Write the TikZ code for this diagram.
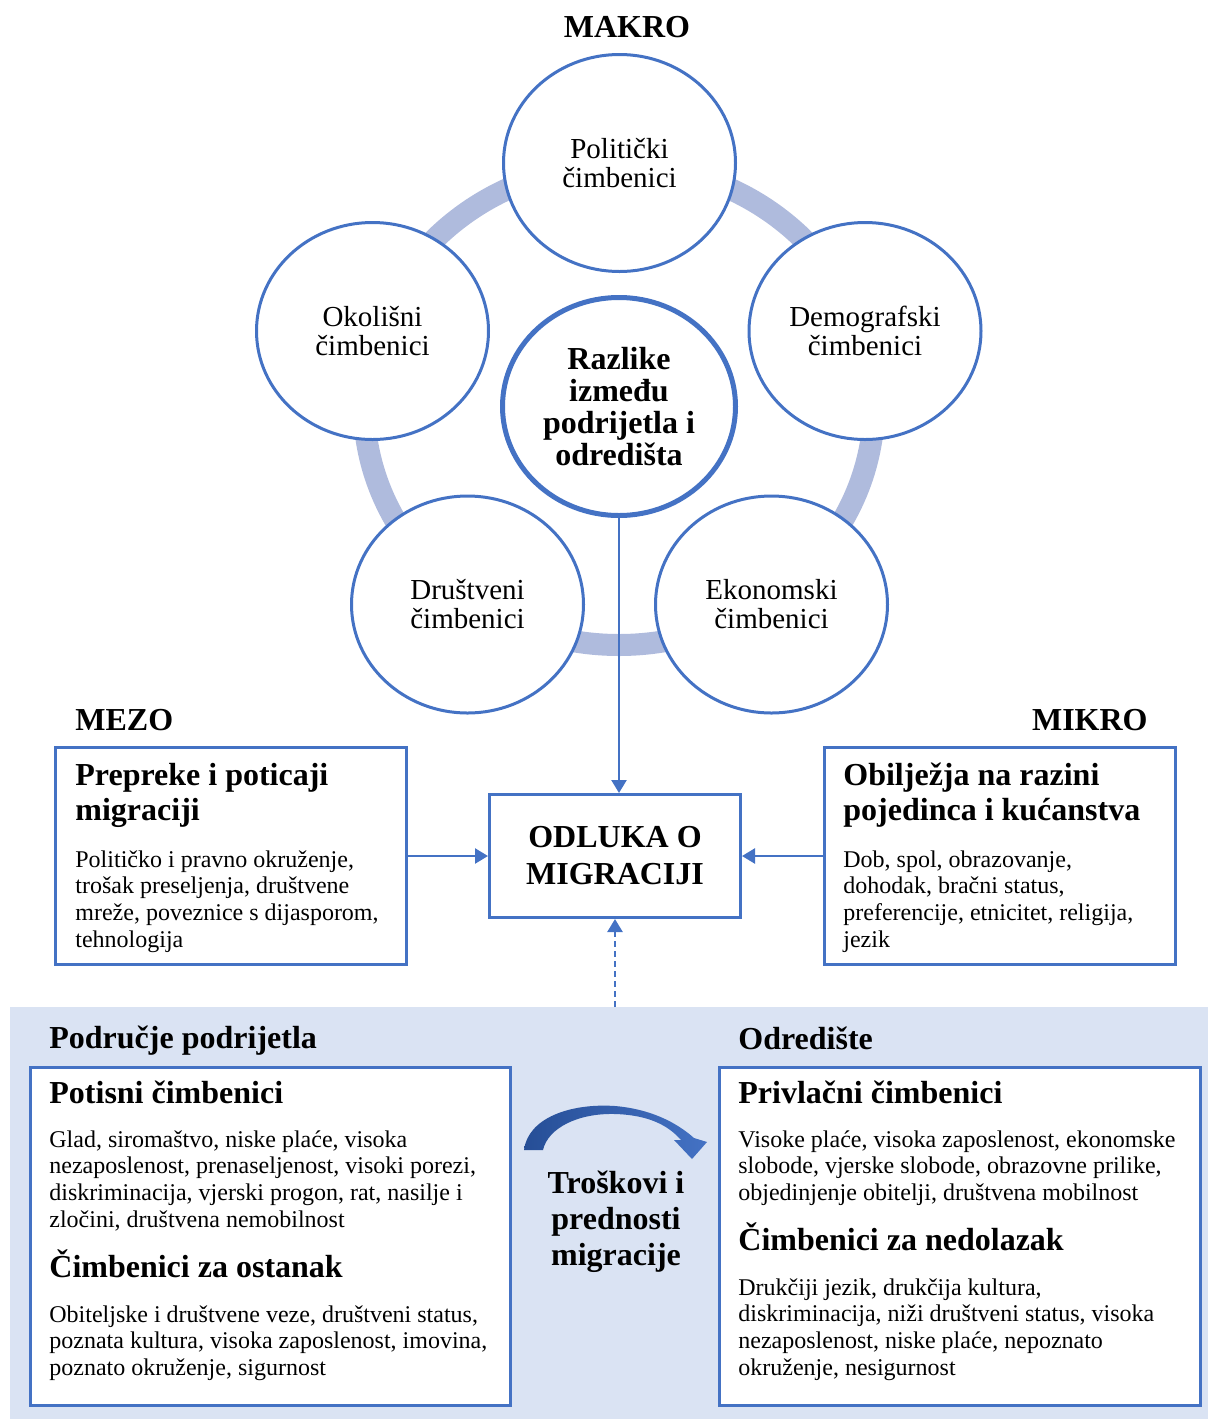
\documentclass[tikz,border=0pt]{standalone}
\usepackage{fontspec}
\setmainfont{Liberation Serif}
\usetikzlibrary{arrows.meta,shapes.geometric}
\definecolor{blu}{RGB}{68,114,196}
\definecolor{ringc}{RGB}{175,187,221}
\definecolor{bgb}{RGB}{218,227,243}
\definecolor{arrdark}{RGB}{38,78,150}
\newcommand\mylines[1]{\vtop{\halign{##\hfil\cr#1\crcr}}}
\newcommand\mycentered[1]{\vtop{\halign{\hfil##\hfil\cr#1\crcr}}}
\begin{document}
\begin{tikzpicture}[x=0.5pt,y=-0.5pt,
  factor/.style={ellipse, draw=blu, line width=1.5pt, fill=white, minimum width=116pt, minimum height=108.5pt, inner sep=0pt, align=center, font=\fontsize{14.5}{14.5}\selectfont},
  hub/.style={factor, line width=2.5pt, minimum width=116.5pt, minimum height=109pt, font=\fontsize{16}{16}\selectfont\bfseries},
  box/.style={draw=blu, line width=1.5pt, fill=white, inner sep=0pt},
  level/.style={font=\fontsize{16}{16}\selectfont\bfseries, inner sep=0pt},
  head/.style={font=\fontsize{16}{17.5}\selectfont\bfseries, inner sep=0pt, anchor=base west},
  body/.style={font=\fontsize{12}{13.35}\selectfont, inner sep=0pt, anchor=base west},
  conn/.style={draw=blu, line width=1.2pt, -{Triangle[width=7.5pt,length=6.5pt]}},
  dconn/.style={conn, dash pattern=on 3pt off 2pt}
]
\useasboundingbox (0,0) rectangle (1208,1419);

% bottom band
\node[fill=bgb, draw=none, minimum width=599pt, minimum height=206pt, inner sep=0pt] (band) at (609,1213) {};

% ring
\draw[ringc, line width=11pt] (619,405) ellipse [x radius=127.5pt, y radius=120pt];

% factor ellipses
\node[factor] (pol) at (619.5,163) {Politički\\čimbenici};
\node[factor] (oko) at (372.5,331) {Okolišni\\čimbenici};
\node[factor] (dem) at (865,331) {Demografski\\čimbenici};
\node[factor] (dru) at (467.5,604.5) {Društveni\\čimbenici};
\node[factor] (eko) at (771.5,604.5) {Ekonomski\\čimbenici};
\node[hub] (razl) at (619,406.5) {Razlike\\između\\podrijetla i\\odredišta};

% level labels
\node[level, anchor=base] (makro) at (627,37) {MAKRO};
\node[level, anchor=base west] (mezol) at (75,730) {MEZO};
\node[level, anchor=base east] (mikrol) at (1148,730) {MIKRO};

% boxes
\node[box, minimum width=175.5pt, minimum height=108.5pt] (mezo) at (231,856) {};
\node[box, minimum width=175.5pt, minimum height=108.5pt] (mikro) at (1000,856) {};
\node[box, minimum width=125.5pt, minimum height=61.5pt, font=\fontsize{16}{18.5}\selectfont\bfseries, align=center] (odl) at (615,856) {ODLUKA O\\MIGRACIJI};
\node[box, minimum width=240pt, minimum height=169pt] (lbox) at (270.5,1236) {};
\node[box, minimum width=240.5pt, minimum height=169pt] (rbox) at (960,1236) {};

% mezo / mikro texts
\node[head] (mezoh) at (75,785) {\mylines{Prepreke i poticaji\cr migraciji}};
\node[body] (mezob) at (75,867) {\mylines{Političko i pravno okruženje,\cr trošak preseljenja, društvene\cr mreže, poveznice s dijasporom,\cr tehnologija}};
\node[head] (mikroh) at (843,785) {\mylines{Obilježja na razini\cr pojedinca i kućanstva}};
\node[body] (mikrob) at (843,867) {\mylines{Dob, spol, obrazovanje,\cr dohodak, bračni status,\cr preferencije, etnicitet, religija,\cr jezik}};

% bottom texts
\node[head] (orig) at (49,1048) {Područje podrijetla};
\node[head] (dest) at (738,1049) {Odredište};
\node[head] (push) at (49,1103) {Potisni čimbenici};
\node[body] (pushb) at (49,1147) {\mylines{Glad, siromaštvo, niske plaće, visoka\cr nezaposlenost, prenaseljenost, visoki porezi,\cr diskriminacija, vjerski progon, rat, nasilje i\cr zločini, društvena nemobilnost}};
\node[head] (stay) at (49,1277) {Čimbenici za ostanak};
\node[body] (stayb) at (49,1322) {\mylines{Obiteljske i društvene veze, društveni status,\cr poznata kultura, visoka zaposlenost, imovina,\cr poznato okruženje, sigurnost}};
\node[head] (pull) at (738,1103) {Privlačni čimbenici};
\node[body] (pullb) at (738,1147) {\mylines{Visoke plaće, visoka zaposlenost, ekonomske\cr slobode, vjerske slobode, obrazovne prilike,\cr objedinjenje obitelji, društvena mobilnost}};
\node[head] (nocome) at (738,1250) {Čimbenici za nedolazak};
\node[body] (nocomeb) at (738,1295) {\mylines{Drukčiji jezik, drukčija kultura,\cr diskriminacija, niži društveni status, visoka\cr nezaposlenost, niske plaće, nepoznato\cr okruženje, nesigurnost}};

% curved arrow and cost text
\shade[left color=arrdark, right color=blu] (524,1150) .. controls (528,1118) and (570,1103) .. (615,1106) .. controls (650,1109) and (676,1122) .. (694,1138) -- (707,1142) -- (692,1159) -- (674,1140) -- (681,1140) .. controls (668,1125) and (648,1115) .. (615,1114) .. controls (578,1113) and (548,1128) .. (543,1150) -- cycle;
\node[font=\fontsize{16}{18}\selectfont\bfseries, inner sep=0pt, anchor=base] (cost) at (616,1193) {\mycentered{Troškovi i\cr prednosti\cr migracije}};

% connectors
\draw[conn] (razl.south) -- (razl.south |- odl.north);
\draw[conn] (mezo.east) -- (odl.west);
\draw[conn] (mikro.west) -- (odl.east);
\draw[dconn] (band.north -| odl.south) -- (odl.south);
\end{tikzpicture}
\end{document}
